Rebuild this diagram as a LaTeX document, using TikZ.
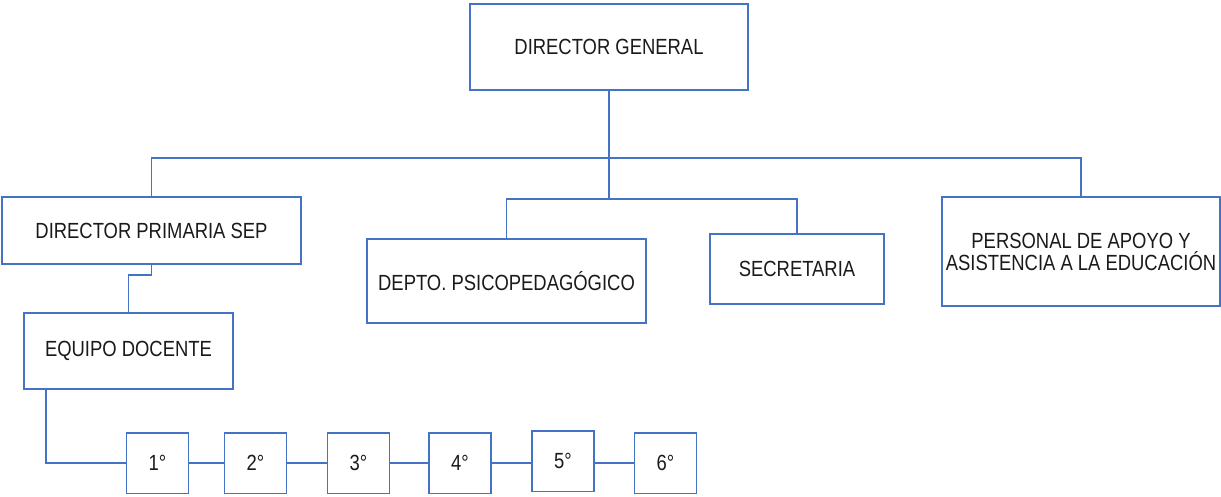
\documentclass[tikz,border=0pt]{standalone}
\usepackage{fontspec}
\setmainfont{Liberation Sans}[FakeStretch=0.84]
\usetikzlibrary{positioning}
\definecolor{orgblue}{RGB}{68,114,196}
\definecolor{orgtext}{RGB}{26,26,26}

\begin{document}
\begin{tikzpicture}[x=0.025cm, y=-0.025cm,
    unit/.style={draw=orgblue, line width=1.3pt, rectangle, inner sep=0pt, align=center, text=orgtext, font=\fontsize{15.6}{15.6}\selectfont},
    grade/.style={unit, minimum width=1.55cm, minimum height=1.52cm},
    link/.style={draw=orgblue, line width=1.3pt}
]
    \useasboundingbox (0,0) rectangle (1221,496);

    % Director General
    \node[unit, minimum width=6.95cm, minimum height=2.15cm] (dg) at (609,47) {DIRECTOR GENERAL};

    % Director Primaria SEP
    \node[unit, minimum width=7.475cm, minimum height=1.675cm] (dps) at (151.5,230.5) {DIRECTOR PRIMARIA SEP};

    % Depto. Psicopedagogico
    \node[unit, minimum width=6.975cm, minimum height=2.1cm] (depto) at (506.5,281) {DEPTO. PSICOPEDAGÓGICO};

    % Secretaria
    \node[unit, minimum width=4.35cm, minimum height=1.75cm] (secre) at (797,269) {SECRETARIA};

    % Personal de apoyo
    \node[unit, minimum width=6.95cm, minimum height=2.725cm] (personal) at (1081,251.5) {PERSONAL DE APOYO Y\\ASISTENCIA A LA EDUCACIÓN};

    % Equipo docente
    \node[unit, minimum width=5.225cm, minimum height=1.9cm] (equipo) at (128.5,351) {EQUIPO DOCENTE};

    % Grados
    \node[grade] (g1) at (157.5,463) {1°};
    \node[grade] (g2) at (255.5,463) {2°};
    \node[grade] (g3) at (358.5,463) {3°};
    \node[grade] (g4) at (460,463) {4°};
    \node[grade] (g5) at (563,461) {5°};
    \node[grade] (g6) at (665.5,463) {6°};

    % Lines
    \coordinate (bus) at (609,158);
    \coordinate (busb) at (609,199);
    \coordinate (eqout) at (46,389);
    \draw[link] (dg.south) -- (bus) -| (dps.north);
    \draw[link] (bus) -| (personal.north);
    \draw[link] (bus) -- (busb) -| (depto.north);
    \draw[link] (busb) -| (secre.north);
    \draw[link] (dps.south) -- ++(0,10) -| (equipo.north);
    \draw[link] (eqout) |- (g1.west);
    \draw[link] (g1.east) -- (g2.west);
    \draw[link] (g2.east) -- (g3.west);
    \draw[link] (g3.east) -- (g4.west);
    \draw[link] (g4.east) -- (g5.west |- g4.east);
    \draw[link] (g5.east |- g6.west) -- (g6.west);

\end{tikzpicture}
\end{document}
